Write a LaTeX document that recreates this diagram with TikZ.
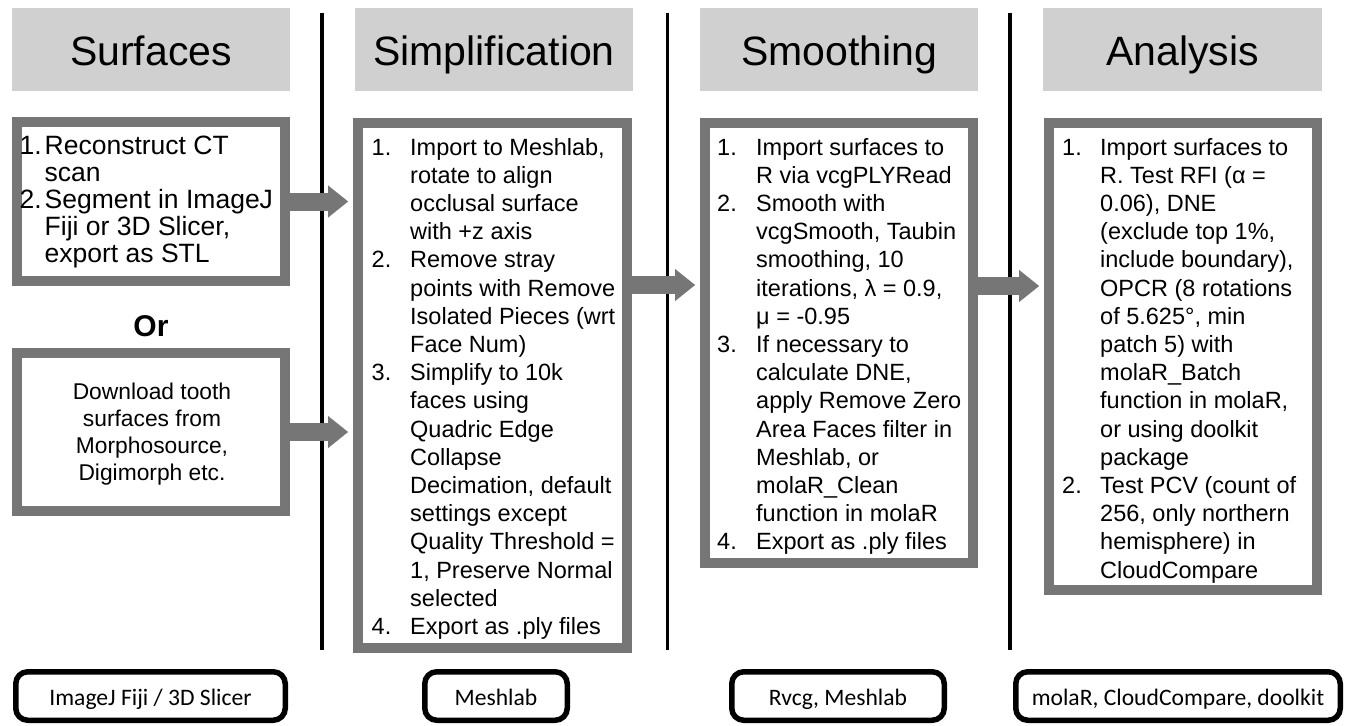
\documentclass[tikz,border=0pt]{standalone}
\usepackage{fontspec}
\setmainfont{Liberation Sans}
\newfontfamily\toolfont{Carlito}
\usetikzlibrary{arrows.meta}
\definecolor{hdrgray}{RGB}{208,208,208}
\definecolor{boxgray}{RGB}{118,118,118}
\newcommand{\bodyfont}{\fontsize{23.5}{28.2}\selectfont}
\newcommand{\firstfont}{\fontsize{26.5}{27}\selectfont}
\begin{document}
\begin{tikzpicture}[x=1pt,y=-1pt,
  hdr/.style={fill=hdrgray, draw=none, inner sep=0pt, minimum height=83pt,
    font=\fontsize{41}{49}\selectfont, text height=33pt, text depth=0pt},
  stepbox/.style={draw=boxgray, line width=10pt, inner sep=0pt},
  toolbox/.style={draw=black, line width=5.5pt, rounded corners=12pt, inner sep=0pt,
    minimum height=48.5pt, font=\toolfont\fontsize{23.6}{28}\selectfont,
    text height=19pt, text depth=0pt},
  divider/.style={draw=black, line width=3.5pt},
  garrow/.style={draw=boxgray, line width=18pt, shorten >=5pt,
    -{Triangle[width=32pt,length=20pt,line width=0.1pt]}},
  txt/.style={inner sep=0pt, anchor=base west, align=left}
]
\useasboundingbox (0,0) rectangle (1351,725);
\fill[white] (0,0) rectangle (1351,725);

% headers
\node[hdr, minimum width=278pt] (H1) at (151,49.5) {Surfaces};
\node[hdr, minimum width=278pt] (H2) at (494,49.5) {Simplification};
\node[hdr, minimum width=278pt] (H3) at (839,49.5) {Smoothing};
\node[hdr, minimum width=279pt] (H4) at (1182.5,49.5) {Analysis};

% dividers
\coordinate (d1t) at (322,13);   \coordinate (d1b) at (322,650);
\coordinate (d2t) at (667.5,13); \coordinate (d2b) at (667.5,650);
\coordinate (d3t) at (1010,13);  \coordinate (d3b) at (1010,650);
\draw[divider] (d1t) -- (d1b);
\draw[divider] (d2t) -- (d2b);
\draw[divider] (d3t) -- (d3b);

% step boxes
\node[stepbox, minimum width=268pt, minimum height=159pt] (A1) at (151,201.5) {};
\node[stepbox, minimum width=268pt, minimum height=158pt] (B1) at (151,432) {};
\node[stepbox, minimum width=269pt, minimum height=525pt] (S2) at (492.5,385.5) {};
\node[stepbox, minimum width=268pt, minimum height=440pt] (S3) at (839,343) {};
\node[stepbox, minimum width=268pt, minimum height=467pt] (S4) at (1183,356.5) {};

% arrows
\coordinate (r23) at (0,285);
\coordinate (r34) at (0,286);
\draw[garrow] (A1.east) -- (A1.east -| S2.west);
\draw[garrow] (B1.east) -- (B1.east -| S2.west);
\draw[garrow] (S2.east |- r23) -- (S3.west |- r23);
\draw[garrow] (S3.east |- r34) -- (S4.west |- r34);

% texts
\node[txt, font=\firstfont] (tA1) at (19.5,154) {\begin{tabular}[t]{@{}p{25pt}@{}l@{}}
1. & Reconstruct CT\\
   & scan\\
2. & Segment in ImageJ\\
   & Fiji or 3D Slicer,\\
   & export as STL
\end{tabular}};

\node[font=\fontsize{30}{34}\selectfont\bfseries, inner sep=0pt, anchor=base] (or) at (151,336) {Or};

\node[inner sep=0pt, anchor=base, font=\fontsize{22.8}{27}\selectfont] (tB1) at (152,399) {\begin{tabular}[t]{@{}c@{}}
Download tooth\\
surfaces from\\
Morphosource,\\
Digimorph etc.
\end{tabular}};

\node[txt, font=\bodyfont] (tS2) at (371.5,155) {\begin{tabular}[t]{@{}p{38.5pt}@{}l@{}}
1. & Import to Meshlab,\\
   & rotate to align\\
   & occlusal surface\\
   & with +z axis\\
2. & Remove stray\\
   & points with Remove\\
   & Isolated Pieces (wrt\\
   & Face Num)\\
3. & Simplify to 10k\\
   & faces using\\
   & Quadric Edge\\
   & Collapse\\
   & Decimation, default\\
   & settings except\\
   & Quality Threshold =\\
   & 1, Preserve Normal\\
   & selected\\
4. & Export as .ply files
\end{tabular}};

\node[txt, font=\bodyfont] (tS3) at (717,155) {\begin{tabular}[t]{@{}p{39pt}@{}l@{}}
1. & Import surfaces to\\
   & R via vcgPLYRead\\
2. & Smooth with\\
   & vcgSmooth, Taubin\\
   & smoothing, 10\\
   & iterations, λ = 0.9,\\
   & μ = -0.95\\
3. & If necessary to\\
   & calculate DNE,\\
   & apply Remove Zero\\
   & Area Faces filter in\\
   & Meshlab, or\\
   & molaR\_Clean\\
   & function in molaR\\
4. & Export as .ply files
\end{tabular}};

\node[txt, font=\bodyfont] (tS4) at (1062,155) {\begin{tabular}[t]{@{}p{38pt}@{}l@{}}
1. & Import surfaces to\\
   & R. Test RFI (α =\\
   & 0.06), DNE\\
   & (exclude top 1\%,\\
   & include boundary),\\
   & OPCR (8 rotations\\
   & of 5.625°, min\\
   & patch 5) with\\
   & molaR\_Batch\\
   & function in molaR,\\
   & or using doolkit\\
   & package\\
2. & Test PCV (count of\\
   & 256, only northern\\
   & hemisphere) in\\
   & CloudCompare
\end{tabular}};

% tool boxes
\node[toolbox, minimum width=269.5pt] (T1) at (150.5,696) {ImageJ Fiji / 3D Slicer};
\node[toolbox, minimum width=142.5pt] (T2) at (496,696) {Meshlab};
\node[toolbox, minimum width=212.5pt] (T3) at (838,696) {Rvcg, Meshlab};
\node[toolbox, minimum width=324.5pt] (T4) at (1178,696) {molaR, CloudCompare, doolkit};
\end{tikzpicture}
\end{document}
